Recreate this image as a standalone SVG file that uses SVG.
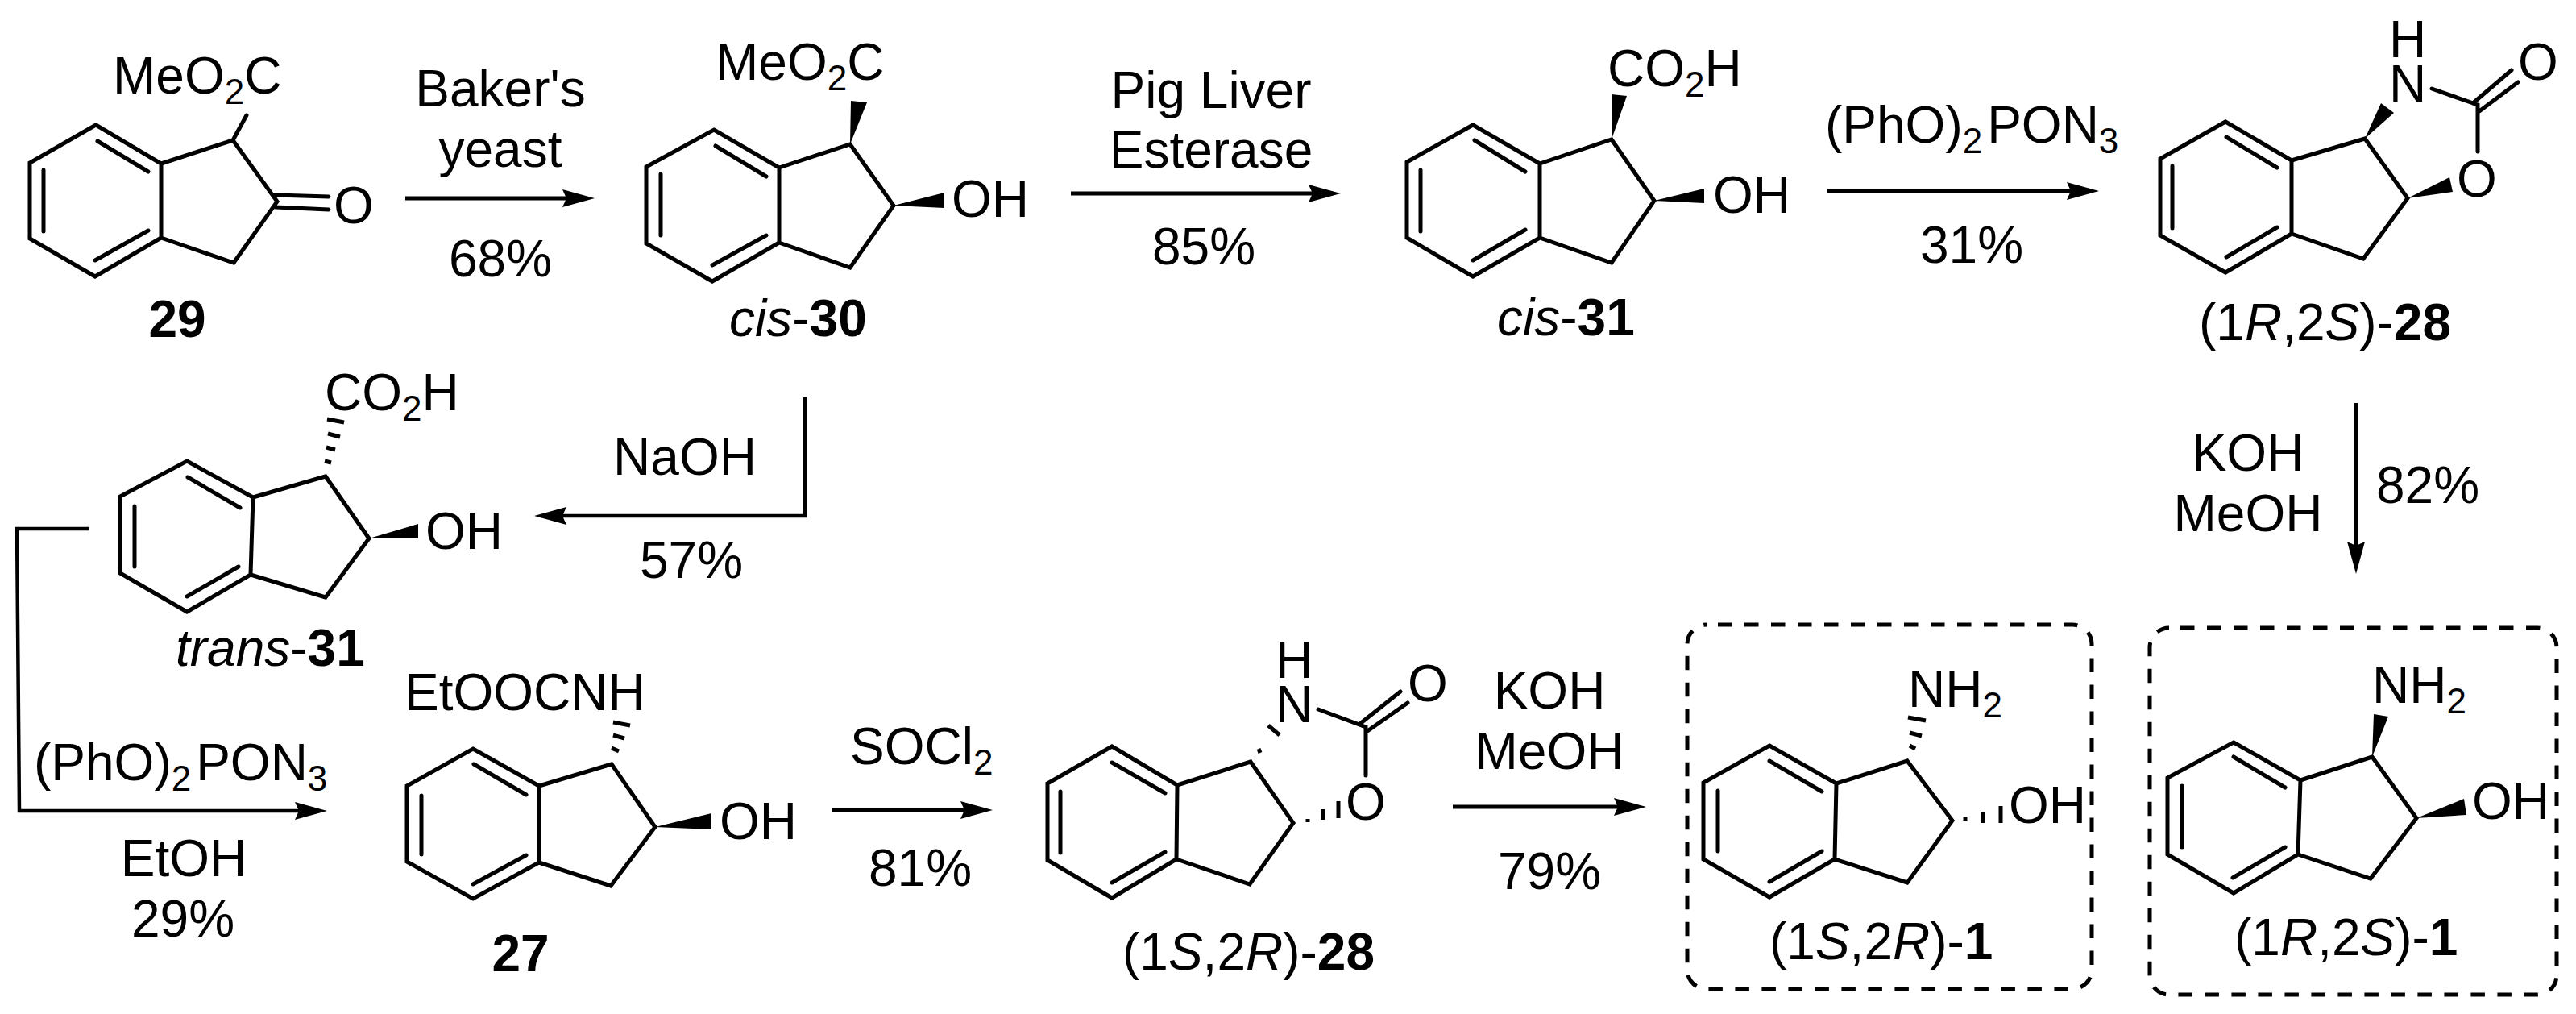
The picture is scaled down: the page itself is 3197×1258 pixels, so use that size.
<svg xmlns="http://www.w3.org/2000/svg" width="3197" height="1258" viewBox="0 0 3197 1258">
<style>
text{font-family:"Liberation Sans",Arial,sans-serif;font-size:64px;fill:#000;font-kerning:none}
.m{text-anchor:middle}
.b{font-weight:700}
.i{font-style:italic}
.s{font-size:44px}
.bond{fill:none;stroke:#000;stroke-width:5;stroke-linecap:round;stroke-linejoin:miter}
.hash{fill:none;stroke:#000;stroke-width:5}
.w{fill:#000;stroke:none}
.arr{fill:none;stroke:#000;stroke-width:5;marker-end:url(#ah)}
.thin{stroke-width:4.5}
.box{fill:none;stroke:#000;stroke-width:5;stroke-dasharray:17.5 15.5;stroke-dashoffset:19}
</style>
<defs><marker id="ah" markerUnits="userSpaceOnUse" markerWidth="40" markerHeight="22" viewBox="0 0 40 22" refX="20" refY="11" orient="auto"><path d="M0,0 L40,11 L0,22 L5,11z" fill="#000"/></marker></defs>
<rect width="3197" height="1258" fill="#fff"/>

<g id="connectors">
<path class="arr" d="M503,246H718"/>
<path class="arr" d="M1329,240H1644"/>
<path class="arr" d="M2268,237H2585"/>
<path class="arr thin" d="M2924,500V692"/>
<path class="arr thin" d="M999,493V640H683"/>
<path class="arr thin" d="M111,656H21L24,1006H386"/>
<path class="arr" d="M1032,1005H1212"/>
<path class="arr" d="M1803,1001H2023"/>
</g>

<g id="rgt-1"><text class="m" x="621" y="132">Baker's</text><text class="m" x="621" y="207">yeast</text><text class="m" x="621" y="343">68%</text></g>
<g id="rgt-2"><text class="m" x="1503" y="134">Pig Liver</text><text class="m" x="1503" y="208">Esterase</text><text class="m" x="1494" y="328">85%</text></g>
<g id="rgt-3"><text x="2265" y="177">(PhO)<tspan class="s" dy="13">2</tspan><tspan dx="6" dy="-13">PON</tspan><tspan class="s" dy="13">3</tspan></text><text class="m" x="2447" y="326">31%</text></g>
<g id="rgt-4"><text class="m" x="2790" y="584">KOH</text><text class="m" x="2790" y="659">MeOH</text><text class="m" x="3013" y="624">82%</text></g>
<g id="rgt-5"><text class="m" x="850" y="589">NaOH</text><text class="m" x="858" y="717">57%</text></g>
<g id="rgt-6"><text x="42" y="968">(PhO)<tspan class="s" dy="13">2</tspan><tspan dx="6" dy="-13">PON</tspan><tspan class="s" dy="13">3</tspan></text><text class="m" x="228" y="1087">EtOH</text><text class="m" x="227" y="1162">29%</text></g>
<g id="rgt-7"><text x="1055" y="948">SOCl<tspan class="s" dy="13">2</tspan></text><text class="m" x="1142" y="1099">81%</text></g>
<g id="rgt-8"><text class="m" x="1923" y="879">KOH</text><text class="m" x="1923" y="954">MeOH</text><text class="m" x="1923" y="1103">79%</text></g>

<g id="mol-29">
<path class="bond" d="M119,155L200,203V295L118,343L37,296V202ZM121,175L184,213M54,211V287M118,323L184,286M200,203L289,174L344,250L290,326L200,295M289,174L306,143M342,242L408,244M342,257L408,260"/>
<text class="m" x="439" y="277">O</text>
<text x="140" y="116">MeO<tspan class="s" dy="13">2</tspan><tspan dy="-13">C</tspan></text>
<text class="m b" x="220" y="418">29</text>
</g>

<g id="mol-cis-30">
<path class="bond" d="M886,161L967,208V301L884,349L802,302V207ZM888,181L951,219M820,216V292M884,329L951,292M967,208L1055,179L1109,255L1055,332L967,301"/>
<polygon class="w" points="1055,179 1056,125 1076,127"/>
<polygon class="w" points="1109,255 1172,239 1172,258"/>
<text x="1181" y="269">OH</text>
<text x="888" y="99">MeO<tspan class="s" dy="13">2</tspan><tspan dy="-13">C</tspan></text>
<text x="905" y="417"><tspan class="i">cis</tspan>-<tspan class="b">30</tspan></text>
</g>

<g id="mol-cis-31">
<path class="bond" d="M1828,155L1911,203V295L1828,343L1746,295V201ZM1830,174L1893,213M1763,211V287M1828,323L1893,285M1911,203L2000,173L2053,249L2000,326L1911,295"/>
<polygon class="w" points="2000,173 2000,117 2019,119"/>
<polygon class="w" points="2053,249 2115,234 2115,252"/>
<text x="2126" y="264">OH</text>
<text x="1995" y="107">CO<tspan class="s" dy="13">2</tspan><tspan dy="-13">H</tspan></text>
<text x="1858" y="416"><tspan class="i">cis</tspan>-<tspan class="b">31</tspan></text>
</g>

<g id="mol-1R2S-28">
<path class="bond" d="M2762,151L2844,199V290L2762,338L2681,292V197ZM2763,170L2826,208M2696,206V283M2763,319L2826,282M2844,199L2935,172L2988,246L2933,321L2844,290M3018,110L3075,130V188M3069,128L3117,87M3077,138L3125,102"/>
<polygon class="w" points="2935,172 2955,128 2971,140"/>
<polygon class="w" points="2988,246 3040,220 3044,238"/>
<text class="m" x="2988" y="71">H</text><text class="m" x="2988" y="126">N</text>
<text class="m" x="3150" y="99">O</text><text class="m" x="3074" y="244">O</text>
<text x="2729" y="422">(1<tspan class="i">R</tspan>,2<tspan class="i">S</tspan>)-<tspan class="b">28</tspan></text>
</g>

<g id="mol-trans-31">
<path class="bond" d="M232,572L314,617L311,713L232,759L149,711V616ZM233,592L298,630M167,628V703M232,740L296,703M314,617L404,591L458,668L404,741L311,713"/>
<path class="hash" d="M406,520L427,524M407,538L422,542M405,555L416,558M403,572L411,574"/>
<polygon class="w" points="458,668 519,650 519,668"/>
<text x="528" y="681">OH</text>
<text x="403" y="509">CO<tspan class="s" dy="13">2</tspan><tspan dy="-13">H</tspan></text>
<text x="218" y="826"><tspan class="i">trans</tspan>-<tspan class="b">31</tspan></text>
</g>

<g id="mol-27">
<path class="bond" d="M587,929L669,975V1070L587,1115L505,1069V975ZM588,948L653,986M523,987V1060M587,1097L653,1061M669,975L759,948L813,1026L758,1099L669,1070"/>
<path class="hash" d="M761,896L782,900M761,912L775,916M759,928L768,932"/>
<polygon class="w" points="813,1026 883,1009 883,1029"/>
<text x="893" y="1041">OH</text>
<text x="502" y="881">EtOOCNH</text>
<text class="m b" x="646" y="1205">27</text>
</g>

<g id="mol-1S2R-28">
<path class="bond" d="M1380,926L1461,974L1460,1066L1380,1114L1300,1067V972ZM1380,946L1446,984M1316,982V1058M1380,1095L1446,1057M1461,974L1552,945L1605,1021L1551,1097L1460,1066M1636,880L1695,902V962M1689,897L1738,858M1697,907L1747,872"/>
<path class="hash" d="M1562,929L1564,934M1574,900L1588,912M1623,1016V1020M1642,1004V1017M1661,994V1015"/>
<text class="m" x="1606" y="841">H</text><text class="m" x="1606" y="896">N</text>
<text class="m" x="1772" y="870">O</text><text class="m" x="1695" y="1017">O</text>
<text x="1393" y="1203">(1<tspan class="i">S</tspan>,2<tspan class="i">R</tspan>)-<tspan class="b">28</tspan></text>
</g>

<g id="mol-1S2R-1">
<rect class="box" x="2094" y="775" width="502" height="452" rx="24"/>
<path class="bond" d="M2196,925L2279,972L2277,1066L2196,1113L2114,1066V971ZM2196,944L2261,982M2132,981V1056M2196,1094L2261,1056M2279,972L2367,944L2423,1018L2367,1095L2277,1066"/>
<path class="hash" d="M2368,890L2390,894M2370,909L2385,913M2370,925L2377,929M2439,1013V1018M2461,1007V1021M2483,1000V1021"/>
<text x="2493" y="1021">OH</text>
<text x="2368" y="877">NH<tspan class="s" dy="13">2</tspan></text>
<text x="2196" y="1190">(1<tspan class="i">S</tspan>,2<tspan class="i">R</tspan>)-<tspan class="b">1</tspan></text>
</g>

<g id="mol-1R2S-1">
<rect class="box" x="2668" y="779" width="505" height="455" rx="24"/>
<path class="bond" d="M2772,921L2855,968L2852,1060L2772,1108L2690,1060V965ZM2772,939L2836,977M2708,975V1051M2771,1089L2836,1051M2855,968L2944,939L2999,1015L2942,1090L2852,1060"/>
<polygon class="w" points="2944,939 2946,886 2964,889"/>
<polygon class="w" points="2999,1015 3058,991 3061,1011"/>
<text x="3068" y="1016">OH</text>
<text x="2944" y="872">NH<tspan class="s" dy="13">2</tspan></text>
<text x="2773" y="1185">(1<tspan class="i">R</tspan>,2<tspan class="i">S</tspan>)-<tspan class="b">1</tspan></text>
</g>
</svg>
